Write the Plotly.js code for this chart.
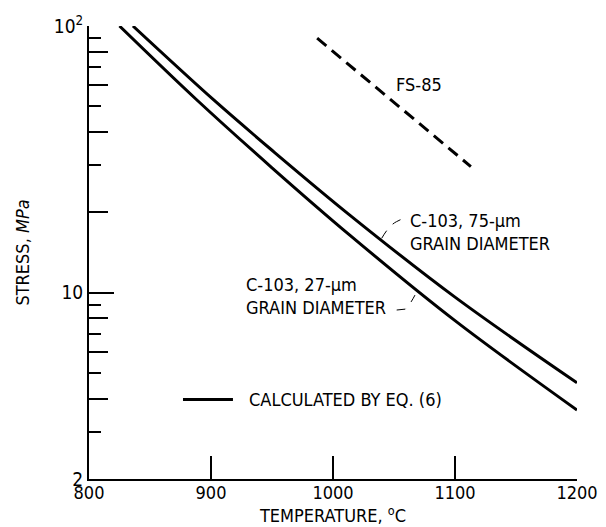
<!DOCTYPE html>
<html><head><meta charset="utf-8">
<script src="https://cdn.plot.ly/plotly-3.0.1.min.js"></script>
<style>html,body{margin:0;padding:0;background:#fff}#chart{width:606px;height:527px}</style>
</head><body><div id="chart"></div>
<script>
// C-103, 27-um grain diameter (calculated by Eq. 6)
const tempFine = [825, 888, 950, 1014, 1100, 1200];
const stressFine = [100, 53.0, 29.4, 16.4, 7.85, 3.63];
// C-103, 75-um grain diameter (calculated by Eq. 6)
const tempCoarse = [836, 902, 950, 1014, 1100, 1200];
const stressCoarse = [100, 52.9, 34.2, 19.5, 9.62, 4.59];
// FS-85
const tempFS85 = [987, 1113];
const stressFS85 = [90, 29.7];

const xTicks = [800, 900, 1000, 1100, 1200];
const xLabels = ['800', '900', '1000', '1100', '1200'];
const yMajorTicks = [2, 10, 100];
const yMajorLabels = ['2', '10', '10<sup>2</sup>'];
const yEvenTicks = [4, 6, 8, 20, 40, 60, 80];
const yOddTicks = [3, 5, 7, 9, 30, 50, 70, 90];

const FONT = "'Liberation Sans Narrow', 'Arial Narrow', 'DejaVu Sans Condensed', sans-serif";

const traces = [
  {x: tempFine, y: stressFine, mode: 'lines', line: {color: '#000', width: 3, shape: 'spline', smoothing: 1}, showlegend: false, hoverinfo: 'skip'},
  {x: tempCoarse, y: stressCoarse, mode: 'lines', line: {color: '#000', width: 3, shape: 'spline', smoothing: 1}, showlegend: false, hoverinfo: 'skip'},
  {x: tempFS85, y: stressFS85, yaxis: 'y2', mode: 'lines', line: {color: '#000', width: 3, dash: '12px,7px'}, showlegend: false, hoverinfo: 'skip'}
];

const yRange = [Math.log10(2), 2];

const layout = {
  width: 606, height: 527,
  margin: {l: 89, r: 29, t: 26, b: 48},
  paper_bgcolor: '#fff', plot_bgcolor: '#fff',
  font: {family: FONT, size: 18, color: '#000'},
  showlegend: false,
  xaxis: {
    range: [800, 1200], tickmode: 'array', tickvals: xTicks, ticktext: xLabels,
    ticks: 'inside', ticklen: 23, tickwidth: 2, tickcolor: '#000',
    showline: true, linecolor: '#000', linewidth: 2, mirror: false,
    showgrid: false, zeroline: false,
    ticklabelstandoff: -4,
    tickfont: {family: FONT, size: 18},
    title: {text: 'TEMPERATURE, <sup>o</sup>C', font: {family: FONT, size: 18}, standoff: 4}
  },
  yaxis: {
    type: 'log', range: yRange, tickmode: 'array', tickvals: yMajorTicks, ticktext: yMajorLabels,
    ticks: 'inside', ticklen: 25, tickwidth: 2, tickcolor: '#000',
    minor: {tickmode: 'array', tickvals: yOddTicks, ticks: 'inside', ticklen: 12, tickwidth: 2, tickcolor: '#000', showgrid: false},
    showline: true, linecolor: '#000', linewidth: 2, mirror: false,
    showgrid: false, zeroline: false,
    tickfont: {family: FONT, size: 19},
    title: {text: 'STRESS, <i>MPa</i>', font: {family: FONT, size: 18}, standoff: 20}
  },
  yaxis2: {
    type: 'log', range: yRange, overlaying: 'y', side: 'left', anchor: 'x',
    tickmode: 'array', tickvals: yEvenTicks, showticklabels: false,
    ticks: 'inside', ticklen: 19, tickwidth: 2, tickcolor: '#000',
    showline: false, showgrid: false, zeroline: false
  },
  shapes: [
    // legend sample
    {type: 'line', xref: 'paper', yref: 'paper', x0: 0.1926, x1: 0.295, y0: 0.1755, y1: 0.1755, line: {color: '#000', width: 3}},
    // leader lines
    {type: 'path', xref: 'paper', yref: 'paper', path: 'M0.5998,0.5313 Q0.615,0.56 0.630,0.568 L0.644,0.5755', line: {color: '#000', width: 1, dash: 'dash'}},
    {type: 'path', xref: 'paper', yref: 'paper', path: 'M0.6305,0.373 L0.648,0.375 Q0.658,0.385 0.668,0.406', line: {color: '#000', width: 1, dash: 'dash'}}
  ],
  annotations: [
    {xref: 'paper', yref: 'paper', x: 0.676, y: 0.870, text: 'FS-85', showarrow: false, xanchor: 'center', yanchor: 'middle', font: {family: FONT, size: 18}},
    {xref: 'paper', yref: 'paper', x: 0.654, y: 0.545, text: 'C-103, 75-µm<br>GRAIN DIAMETER', showarrow: false, xanchor: 'left', yanchor: 'middle', align: 'left', font: {family: FONT, size: 18}},
    {xref: 'paper', yref: 'paper', x: 0.318, y: 0.403, text: 'C-103, 27-µm<br>GRAIN DIAMETER', showarrow: false, xanchor: 'left', yanchor: 'middle', align: 'left', font: {family: FONT, size: 18}},
    {xref: 'paper', yref: 'paper', x: 0.324, y: 0.1755, text: 'CALCULATED BY EQ. (6)', showarrow: false, xanchor: 'left', yanchor: 'middle', font: {family: FONT, size: 18}}
  ]
};

Plotly.newPlot('chart', traces, layout, {staticPlot: true, displayModeBar: false});
</script>
</body></html>
